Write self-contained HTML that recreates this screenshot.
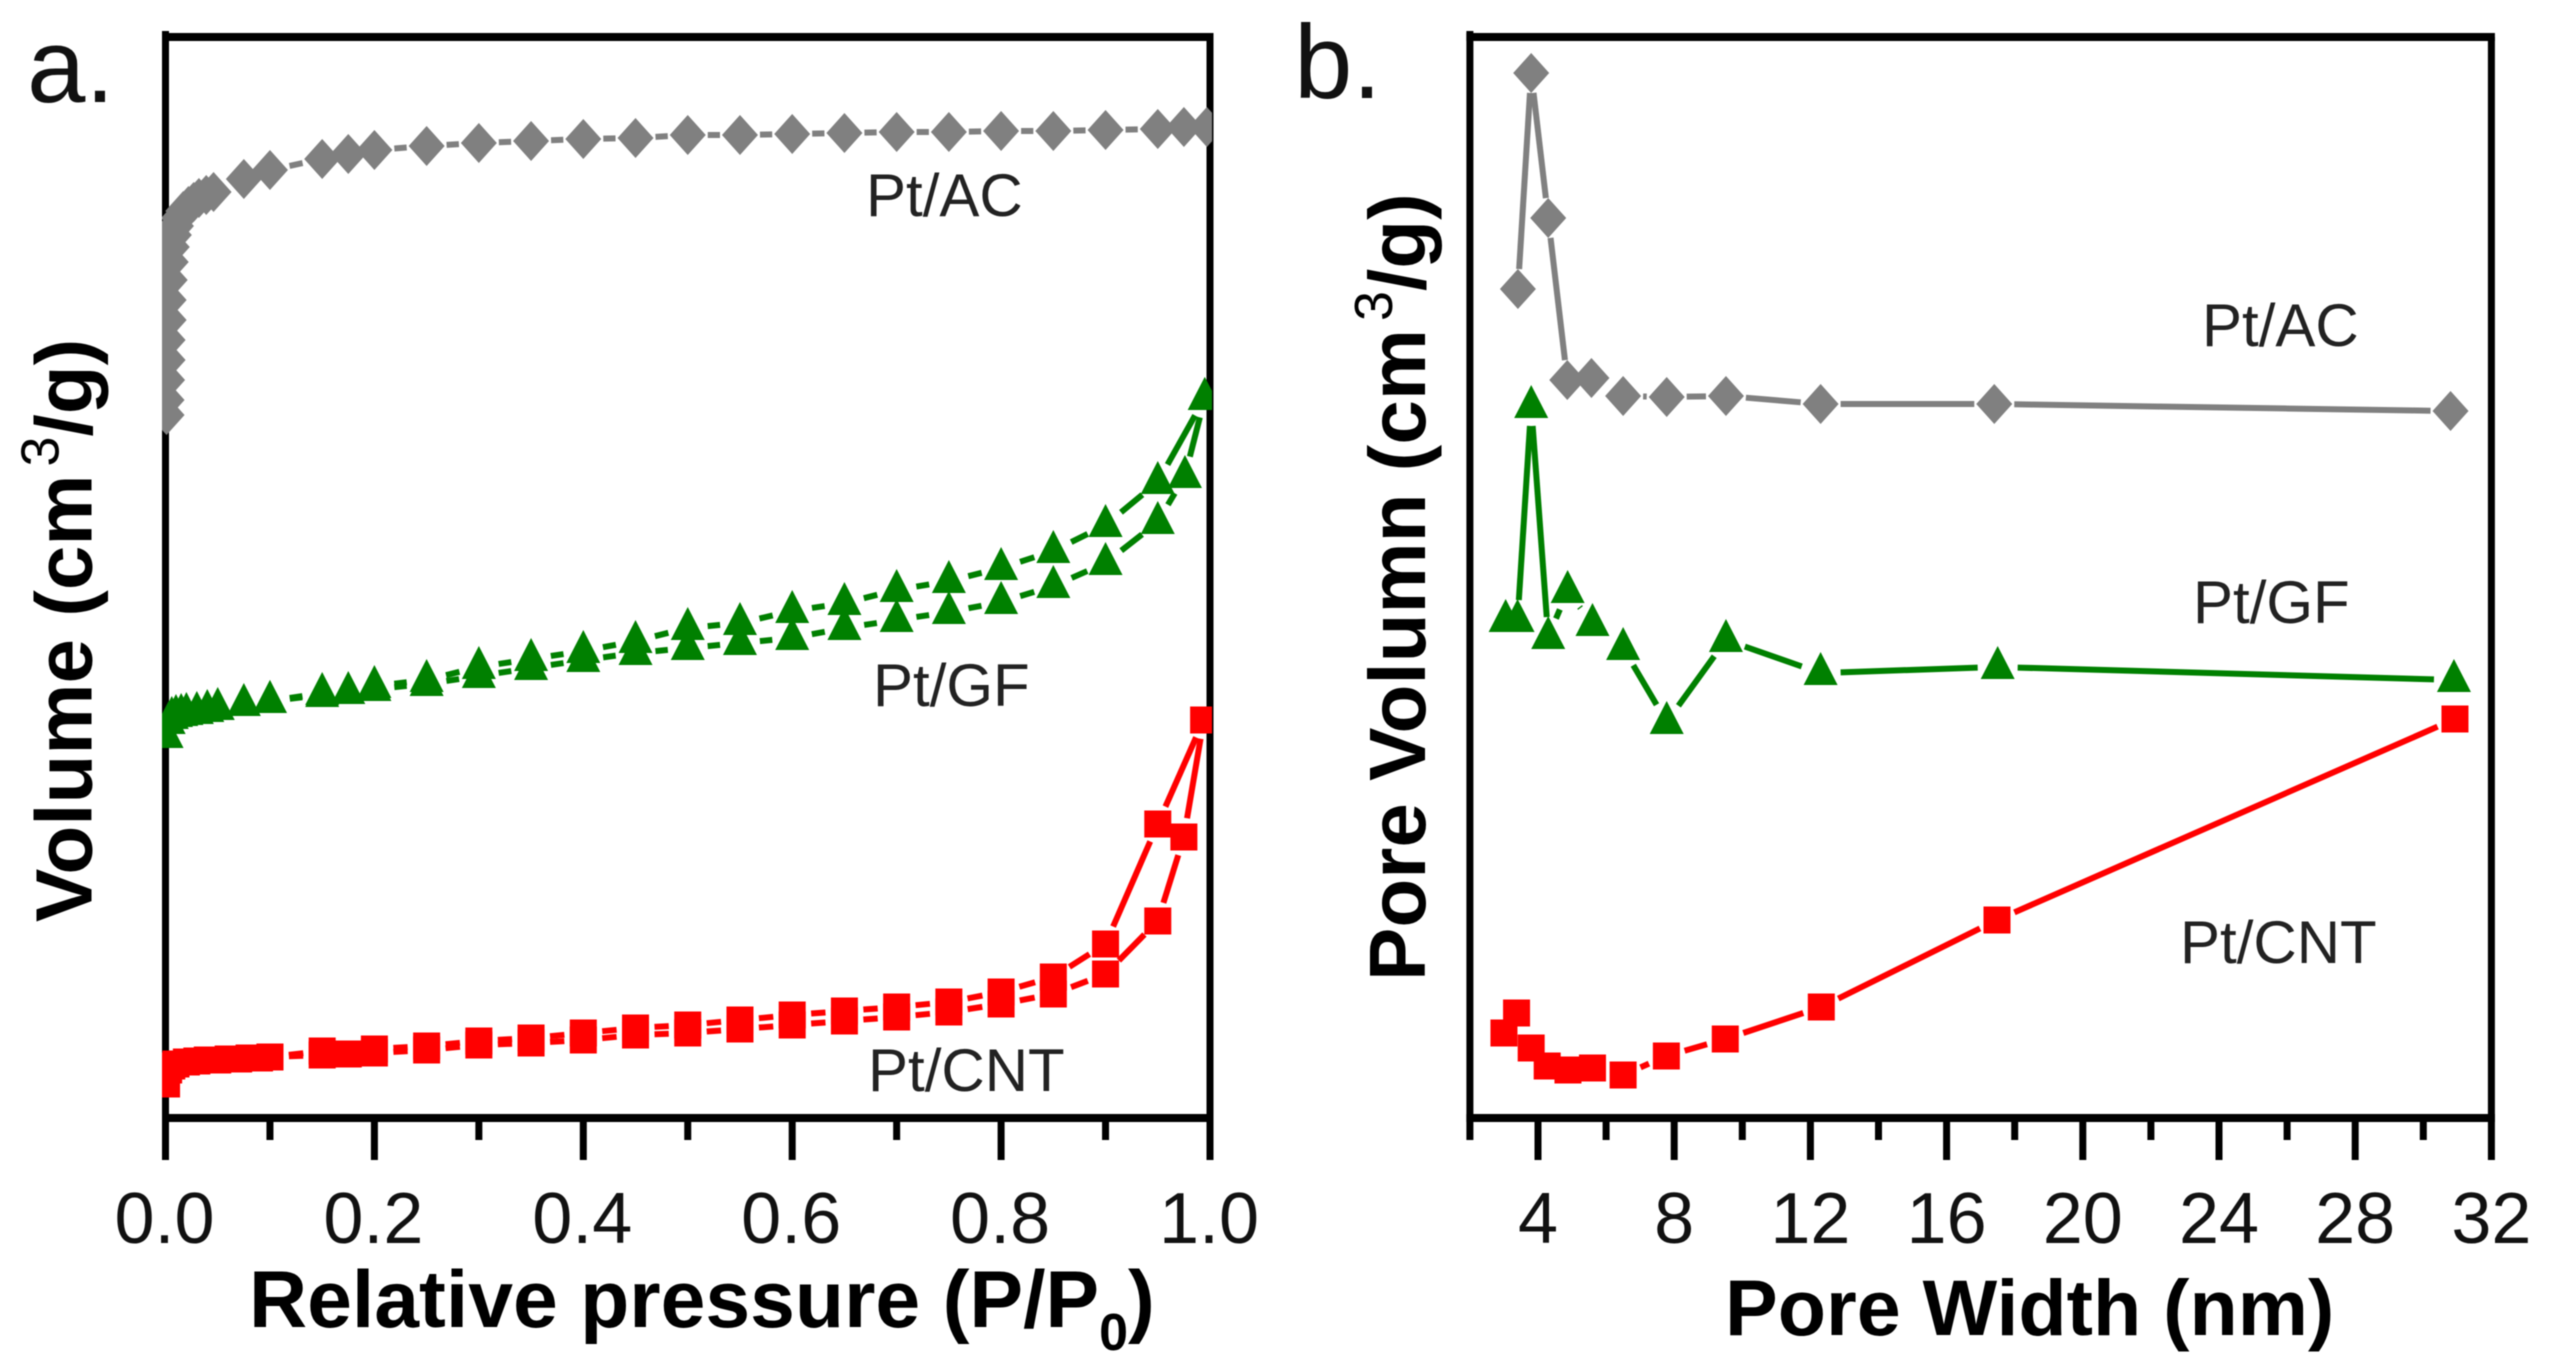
<!DOCTYPE html>
<html lang="en">
<head>
<meta charset="utf-8">
<title>Pt/AC, Pt/GF and Pt/CNT isotherms and pore distribution</title>
<style>
html,body{margin:0;padding:0;background:#fff;}
svg{display:block;filter:blur(0.6px);}
text{font-family:"Liberation Sans",Arial,sans-serif;}
.tick{font-size:72px;fill:#111;text-anchor:middle;}
.title{font-size:80px;font-weight:bold;fill:#000;}
.series-label{font-size:60px;fill:#222;}
.panel{font-size:105px;fill:#111;}
</style>
</head>
<body>
<svg id="chart" width="2550" height="1366" viewBox="0 0 2550 1366" xmlns="http://www.w3.org/2000/svg">
  <defs>
    <clipPath id="clip-a"><rect x="162" y="20" width="1050" height="1120"/></clipPath>
  </defs>
  <rect x="0" y="0" width="2550" height="1366" fill="#fff"/>

  <text class="panel" x="27" y="102">a.</text>
  <text class="panel" x="1294" y="98">b.</text>

  <g id="axes-a"></g>
  <g id="axes-b"></g>
  <g id="ticks-a"></g>
  <g id="ticks-b"></g>
  <g id="series-a" clip-path="url(#clip-a)"></g>
  <g id="series-b"></g>

  <text class="title" style="font-size:80.5px" x="249" y="1327">Relative pressure (P/P<tspan font-size="52" dy="23">0</tspan><tspan dy="-23">)</tspan></text>
  <text class="title" style="font-size:79px" x="1725" y="1335">Pore Width (nm)</text>
  <text class="title" transform="translate(91.5,922) rotate(-90)">Volume (cm<tspan font-size="54" font-weight="normal" dx="8" dy="-33">3</tspan><tspan dy="33">/g)</tspan></text>
  <text class="title" transform="translate(1425,981) rotate(-90)">Pore Volumn (cm<tspan font-size="54" font-weight="normal" dx="8" dy="-33">3</tspan><tspan dy="33">/g)</tspan></text>

  <text class="series-label" x="866" y="216">Pt/AC</text>
  <text class="series-label" x="873" y="706">Pt/GF</text>
  <text class="series-label" x="868" y="1091">Pt/CNT</text>
  <text class="series-label" x="2202" y="346">Pt/AC</text>
  <text class="series-label" x="2193" y="623">Pt/GF</text>
  <text class="series-label" x="2180" y="963">Pt/CNT</text>
</svg>

<script>
// Panel a: tick labels
const pressureTickLabels = ["0.0", "0.2", "0.4", "0.6", "0.8", "1.0"];
const pressureMajorTicks = [0, 0.2, 0.4, 0.6, 0.8, 1.0];
const pressureMinorTicks = [0.1, 0.3, 0.5, 0.7, 0.9];

// Panel a: Pt/AC isotherm
const acPressure = [0.001, 0.001, 0.0015, 0.002, 0.002, 0.003, 0.003, 0.004, 0.005, 0.006, 0.008, 0.01, 0.013, 0.017, 0.022, 0.027, 0.032, 0.039, 0.046, 0.075, 0.1, 0.15, 0.175, 0.2, 0.25, 0.3, 0.35, 0.4, 0.45, 0.5, 0.55, 0.6, 0.65, 0.7, 0.75, 0.8, 0.85, 0.9, 0.95, 0.975, 0.997];
const acVolume = [70.3, 71.8, 73.8, 75.8, 77.8, 79.8, 81.8, 83.8, 85.6, 87.1, 88.3, 89.2, 90, 90.7, 91.2, 91.6, 92, 92.3, 92.6, 93.9, 94.8, 95.9, 96.4, 96.8, 97.2, 97.5, 97.7, 97.9, 98, 98.3, 98.3, 98.4, 98.5, 98.6, 98.6, 98.7, 98.7, 98.8, 98.9, 99.1, 99.1];

// Panel a: Pt/GF isotherm
const gfAdsPressure = [0.001, 0.003, 0.006, 0.01, 0.015, 0.02, 0.03, 0.04, 0.05, 0.075, 0.1, 0.15, 0.175, 0.2, 0.25, 0.3, 0.35, 0.4, 0.45, 0.5, 0.55, 0.6, 0.65, 0.7, 0.75, 0.8, 0.85, 0.9, 0.95, 0.976, 0.995];
const gfAdsVolume = [38.2, 39.6, 40.1, 40.3, 40.4, 40.5, 40.6, 40.8, 41, 41.4, 41.7, 42.3, 42.6, 42.9, 43.4, 44.2, 45, 45.8, 46.5, 47, 47.5, 48, 49, 49.8, 50.6, 51.6, 53.2, 55.5, 59.6, 64.2, 72];
const gfDesPressure = [0.995, 0.95, 0.9, 0.85, 0.8, 0.75, 0.7, 0.65, 0.6, 0.55, 0.5, 0.45, 0.4, 0.35, 0.3, 0.25, 0.2, 0.15, 0.1];
const gfDesVolume = [72, 63.6, 59.3, 56.7, 55, 53.7, 52.8, 51.5, 50.7, 49.5, 49, 47.7, 46.7, 45.9, 45.1, 43.8, 43.2, 42.5, 41.7];

// Panel a: Pt/CNT isotherm
const cntAdsPressure = [0.001, 0.003, 0.006, 0.01, 0.02, 0.03, 0.04, 0.05, 0.06, 0.07, 0.08, 0.09, 0.1, 0.15, 0.175, 0.2, 0.25, 0.3, 0.35, 0.4, 0.45, 0.5, 0.55, 0.6, 0.65, 0.7, 0.75, 0.8, 0.85, 0.9, 0.95, 0.975, 0.994];
const cntAdsVolume = [3.4, 4.8, 5.2, 5.4, 5.6, 5.7, 5.8, 5.8, 5.9, 5.9, 6, 6, 6.1, 6.3, 6.4, 6.5, 6.8, 7.3, 7.5, 7.8, 8.3, 8.5, 8.9, 9.3, 9.7, 10.1, 10.6, 11.4, 12.4, 14.4, 19.7, 28.1, 39.8];
const cntDesPressure = [0.994, 0.95, 0.9, 0.85, 0.8, 0.75, 0.7, 0.65, 0.6, 0.55, 0.5, 0.45, 0.4, 0.35, 0.3, 0.25, 0.2, 0.15, 0.1];
const cntDesVolume = [39.8, 29.4, 17.4, 14.1, 12.6, 11.6, 11.1, 10.7, 10.3, 9.8, 9.3, 9, 8.5, 8, 7.7, 7.2, 6.9, 6.7, 6.1];

// Panel b: tick labels
const widthTickLabels = ["4", "8", "12", "16", "20", "24", "28", "32"];
const widthMajorTicks = [4, 8, 12, 16, 20, 24, 28, 32];
const widthMinorTicks = [2, 6, 10, 14, 18, 22, 26, 30];

// Panel b: pore distributions
const acWidth = [3.41, 3.8, 4.3, 4.86, 5.57, 6.5, 7.78, 9.52, 12.3, 17.4, 30.8];
const acPore = [82.9, 104.5, 90, 73.8, 74, 72.2, 72.1, 72.2, 71.4, 71.4, 70.7];
const gfWidth = [3.05, 3.4, 3.8, 4.3, 4.87, 5.6, 6.5, 7.78, 9.52, 12.3, 17.5, 30.9];
const gfPore = [49.8, 49.8, 71.2, 48.1, 52.7, 49.4, 47, 39.6, 47.8, 44.5, 45.1, 43.8];
const cntWidth = [3, 3.37, 3.8, 4.27, 4.88, 5.6, 6.5, 7.77, 9.5, 12.32, 17.48, 30.93];
const cntPore = [8.5, 10.5, 7, 5.2, 4.8, 5, 4.3, 6.2, 7.9, 11.1, 19.8, 39.9];

const SVG_NS = "http://www.w3.org/2000/svg";
const GREY = "#808080", GREEN = "#008000", RED = "#ff0000", AXIS = "#000";
const TOP = 37, BOTTOM = 1118, MAJOR_END = 1160, MINOR_END = 1140, AXIS_W = 7;

function xPressure(p) { return 165.5 + p * 1044.5; }
function xWidth(w) { return 1469.9 + (w - 2) * 34.05; }
function yValue(v) { return BOTTOM - v * 10; }

function makeLine(parent, x1, y1, x2, y2, color, width, name) {
  const el = document.createElementNS(SVG_NS, "line");
  el.setAttribute("x1", x1);
  el.setAttribute("y1", y1);
  el.setAttribute("x2", x2);
  el.setAttribute("y2", y2);
  el.setAttribute("stroke", color);
  el.setAttribute("stroke-width", width);
  
  
  parent.appendChild(el);
}

function drawFrame(group, left, right, prefix) {
  makeLine(group, left - AXIS_W / 2, TOP, right + AXIS_W / 2, TOP, AXIS, 8, prefix + "-top-axis");
  makeLine(group, left - AXIS_W / 2, BOTTOM, right + AXIS_W / 2, BOTTOM, AXIS, 8, prefix + "-bottom-axis");
  makeLine(group, left, 31, left, BOTTOM, AXIS, AXIS_W, prefix + "-left-axis");
  makeLine(group, right, TOP, right, BOTTOM, AXIS, AXIS_W, prefix + "-right-axis");
}

function drawTicks(group, majors, minors, labels, scale, prefix, labelDx) {
  majors.forEach(function (value, i) {
    const x = scale(value);
    makeLine(group, x, BOTTOM, x, MAJOR_END, AXIS, AXIS_W, prefix + "-major-tick");
    const label = document.createElementNS(SVG_NS, "text");
    label.setAttribute("class", "tick");
    label.setAttribute("x", x + labelDx);
    label.setAttribute("y", 1243);
    
    
    label.textContent = labels[i];
    group.appendChild(label);
  });
  minors.forEach(function (value) {
    const x = scale(value);
    makeLine(group, x, BOTTOM, x, MINOR_END, AXIS, AXIS_W, prefix + "-minor-tick");
  });
}

function drawMarker(group, kind, x, y, color, name) {
  let el;
  if (kind === "square") {
    el = document.createElementNS(SVG_NS, "rect");
    el.setAttribute("x", x - 13.5);
    el.setAttribute("y", y - 13.5);
    el.setAttribute("width", 27);
    el.setAttribute("height", 27);
  } else {
    el = document.createElementNS(SVG_NS, "polygon");
    const pts = kind === "diamond"
      ? [[x, y - 20], [x + 18, y], [x, y + 20], [x - 18, y]]
      : [[x, y - 21], [x + 17, y + 12], [x - 17, y + 12]];
    el.setAttribute("points", pts.map(function (p) { return p.join(","); }).join(" "));
  }
  el.setAttribute("fill", color);
  
  
  group.appendChild(el);
}

function drawSeries(parent, xs, ys, xScale, kind, color, lineW, name) {
  const group = document.createElementNS(SVG_NS, "g");
  
  
  parent.appendChild(group);
  const gap = kind === "square" ? 19 : 20;
  const px = xs.map(xScale);
  const py = ys.map(yValue);
  for (let i = 0; i + 1 < px.length; i++) {
    const dx = px[i + 1] - px[i], dy = py[i + 1] - py[i];
    const d = Math.hypot(dx, dy);
    if (d <= 2 * gap + 1) continue;
    const ux = dx / d, uy = dy / d;
    makeLine(group, px[i] + ux * gap, py[i] + uy * gap, px[i + 1] - ux * gap, py[i + 1] - uy * gap, color, lineW, name + "-line-segment");
  }
  px.forEach(function (x, i) {
    drawMarker(group, kind, x, py[i], color, name + "-point");
  });
}

const axesA = document.getElementById("axes-a");
const axesB = document.getElementById("axes-b");
const ticksA = document.getElementById("ticks-a");
const ticksB = document.getElementById("ticks-b");
const seriesA = document.getElementById("series-a");
const seriesB = document.getElementById("series-b");

drawFrame(axesA, xPressure(0), xPressure(1), "panel-a");
drawFrame(axesB, xWidth(2), xWidth(32), "panel-b");
drawTicks(ticksA, pressureMajorTicks, pressureMinorTicks, pressureTickLabels, xPressure, "panel-a", -1);
drawTicks(ticksB, widthMajorTicks, widthMinorTicks, widthTickLabels, xWidth, "panel-b", 0);

drawSeries(seriesA, acPressure, acVolume, xPressure, "diamond", GREY, 6, "pt-ac-isotherm");
drawSeries(seriesA, gfAdsPressure, gfAdsVolume, xPressure, "triangle", GREEN, 6, "pt-gf-adsorption");
drawSeries(seriesA, gfDesPressure, gfDesVolume, xPressure, "triangle", GREEN, 6, "pt-gf-desorption");
drawSeries(seriesA, cntAdsPressure, cntAdsVolume, xPressure, "square", RED, 6, "pt-cnt-adsorption");
drawSeries(seriesA, cntDesPressure, cntDesVolume, xPressure, "square", RED, 6, "pt-cnt-desorption");

drawSeries(seriesB, acWidth, acPore, xWidth, "diamond", GREY, 6, "pt-ac-pore-distribution");
drawSeries(seriesB, gfWidth, gfPore, xWidth, "triangle", GREEN, 6, "pt-gf-pore-distribution");
drawSeries(seriesB, cntWidth, cntPore, xWidth, "square", RED, 6, "pt-cnt-pore-distribution");
</script>
</body>
</html>
